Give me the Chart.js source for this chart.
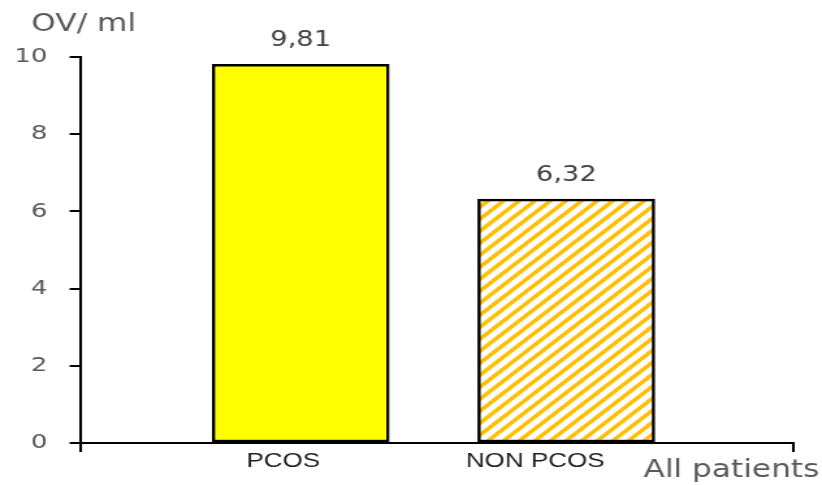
<!DOCTYPE html>
<html>
<head>
<meta charset="utf-8">
<script src="https://cdn.jsdelivr.net/npm/chart.js@4"></script>
<style>
  html, body { margin: 0; padding: 0; background: #fff; overflow: hidden; }
  /* the original picture is stretched sideways, so draw narrow and scale it */
  #wrap { width: 632px; height: 485px; transform: scaleX(1.3006); transform-origin: 0 0; }
</style>
</head>
<body>
<div id="wrap"><canvas id="chart"></canvas></div>
<script>
const categories = ['PCOS', 'NON PCOS'];
const values = [9.81, 6.32];
const valueLabels = ['9,81', '6,32'];
const yTicks = [0, 2, 4, 6, 8, 10];
const yTitle = 'OV/ ml';
const xTitle = 'All patients';

// where the category names sit relative to the bars (they are a bit left of centre)
const labelPos = [-0.066, 0.883];
const xMin = -0.831, xMax = 1.855;

function makeHatch() {
    const c = document.createElement('canvas');
    c.width = 12; c.height = 12;
    const g = c.getContext('2d');
    g.fillStyle = '#ffffff';
    g.fillRect(0, 0, 12, 12);
    g.strokeStyle = '#FFC000';
    g.lineWidth = 3.5;
    g.beginPath();
    g.moveTo(-2, 14); g.lineTo(14, -2);
    g.moveTo(-8, 8); g.lineTo(8, -8);
    g.moveTo(4, 20); g.lineTo(20, 4);
    g.stroke();
    return g.createPattern(c, 'repeat');
}

const extraText = {
    id: 'extraText',
    afterDatasetsDraw(chart) {
        const ctx = chart.ctx;
        const meta = chart.getDatasetMeta(0);
        ctx.save();
        ctx.textAlign = 'center';
        ctx.textBaseline = 'alphabetic';
        ctx.font = '21px "DejaVu Sans"';
        ctx.fillStyle = '#404040';
        meta.data.forEach((bar, i) => {
            ctx.fillText(valueLabels[i], bar.x, bar.y - 18);
        });
        ctx.font = '24px "DejaVu Sans"';
        ctx.fillStyle = '#595959';
        ctx.textAlign = 'left';
        ctx.fillText(yTitle, 24, 31);
        ctx.textAlign = 'right';
        ctx.fillText(xTitle, 630, 477);
        ctx.restore();
    }
};

const ctx = document.getElementById('chart').getContext('2d');
new Chart(ctx, {
    type: 'bar',
    data: {
        datasets: [{
            data: values.map((v, i) => ({ x: i, y: v })),
            backgroundColor: ['#FFFF00', makeHatch()],
            borderColor: '#000000',
            borderWidth: 2.5,
            borderSkipped: false,
            barThickness: 136
        }]
    },
    options: {
        responsive: true,
        maintainAspectRatio: false,
        animation: false,
        layout: { padding: { top: 57, right: 22, left: 0, bottom: 0 } },
        plugins: {
            legend: { display: false },
            tooltip: { enabled: false }
        },
        scales: {
            x: {
                type: 'linear',
                min: xMin,
                max: xMax,
                offset: false,
                afterBuildTicks: (scale) => {
                    scale.ticks = [{ value: xMin }, { value: labelPos[0] }, { value: labelPos[1] }, { value: xMax }];
                },
                afterFit: (scale) => { scale.height = 42; },
                border: { display: true, color: '#000000', width: 2 },
                grid: {
                    offset: false,
                    drawOnChartArea: false,
                    tickLength: 9,
                    lineWidth: 2,
                    color: (c) => (c.index === 0 || c.index === 3) ? '#000000' : 'rgba(0,0,0,0)'
                },
                ticks: {
                    autoSkip: false,
                    maxRotation: 0,
                    padding: -3,
                    color: '#1f1f1f',
                    font: { family: '"Liberation Sans"', size: 20 },
                    callback: (v, i) => (i === 1 || i === 2) ? categories[i - 1] : ''
                }
            },
            y: {
                min: 0,
                max: 10,
                afterBuildTicks: (scale) => {
                    scale.ticks = yTicks.map(v => ({ value: v }));
                },
                afterFit: (scale) => { scale.width = 61.5; },
                border: { display: true, color: '#000000', width: 2 },
                grid: {
                    drawOnChartArea: false,
                    tickLength: 8,
                    lineWidth: 2,
                    color: '#000000'
                },
                ticks: {
                    padding: 17,
                    color: '#595959',
                    font: { family: '"DejaVu Sans"', size: 20 }
                }
            }
        }
    },
    plugins: [extraText]
});
</script>
</body>
</html>
